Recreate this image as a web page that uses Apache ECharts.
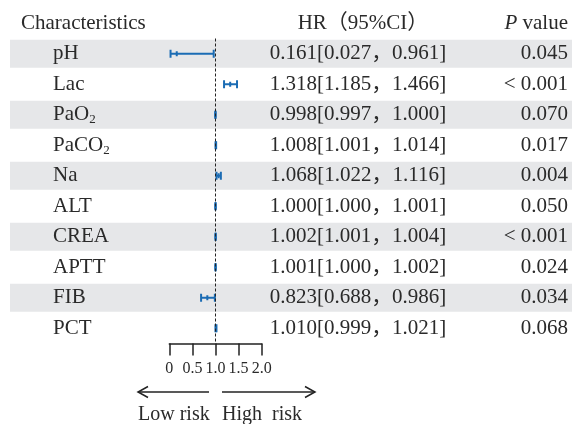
<!DOCTYPE html>
<html>
<head>
<meta charset="utf-8">
<script src="https://cdn.jsdelivr.net/npm/echarts@6/dist/echarts.min.js"></script>
<style>
html, body { margin: 0; padding: 0; background: #fff; }
#chart { width: 572px; height: 424px; }
</style>
</head>
<body>
<div id="chart"></div>
<script>
// rows of the forest plot
var names = ['pH', 'Lac', 'PaO2', 'PaCO2', 'Na', 'ALT', 'CREA', 'APTT', 'FIB', 'PCT'];
var hr = [0.161, 1.318, 0.998, 1.008, 1.068, 1.000, 1.002, 1.001, 0.823, 1.010];
var lower = [0.027, 1.185, 0.997, 1.001, 1.022, 1.000, 1.001, 1.000, 0.688, 0.999];
var upper = [0.961, 1.466, 1.000, 1.014, 1.116, 1.001, 1.004, 1.002, 0.986, 1.021];
var pValues = ['0.045', '< 0.001', '0.070', '0.017', '0.004', '0.050', '< 0.001', '0.024', '0.034', '0.068'];
var xTicks = [0, 0.5, 1.0, 1.5, 2.0];
var xTickLabels = ['0', '0.5', '1.0', '1.5', '2.0'];

var FONT = '"Liberation Serif", "Noto Sans CJK SC", serif';
var TXT = '#2a2a2a';
var BLUE = '#1b6cb4';
var FS = 21;

var chart = echarts.init(document.getElementById('chart'));

var bandData = names.map(function (n, i) { return i % 2 === 0 ? 1 : '-'; });
var textData = names.map(function (n, i) { return [0, i]; });
var ciData = names.map(function (n, i) { return [i, lower[i], hr[i], upper[i]]; });

function subName(n) {
  return n.replace(/2$/, '{sub|2}');
}

var option = {
  animation: false,
  grid: [
    { left: 10, right: 0, top: 38.5, height: 305 },
    { left: 169.3, width: 92.4, top: 38.5, height: 305 }
  ],
  xAxis: [
    { gridIndex: 0, type: 'value', min: 0, max: 1, show: false },
    {
      gridIndex: 1, type: 'value', min: 0, max: 2, interval: 0.5,
      axisLine: { show: true, lineStyle: { color: '#222', width: 1.5 } },
      axisTick: { show: true, length: 12, lineStyle: { color: '#222', width: 1.5 } },
      splitLine: { show: false },
      axisLabel: {
        margin: 17, fontSize: 16, color: TXT, fontFamily: FONT,
        formatter: function (v) { return xTickLabels[xTicks.indexOf(v)]; }
      }
    }
  ],
  yAxis: [
    { gridIndex: 0, type: 'category', data: names, inverse: true, show: false },
    { gridIndex: 1, type: 'category', data: names, inverse: true, show: false }
  ],
  graphic: [
    { type: 'text', style: { x: 21, y: 23, text: 'Characteristics', fontSize: FS, fontFamily: FONT, fill: TXT, align: 'left', verticalAlign: 'middle' } },
    { type: 'text', style: { x: 363, y: 23, text: 'HR（95%CI）', fontSize: FS, fontFamily: FONT, fill: TXT, align: 'center', verticalAlign: 'middle' } },
    { type: 'text', style: { x: 568, y: 23, text: '{i|P} value', fontSize: FS, fontFamily: FONT, fill: TXT, align: 'right', verticalAlign: 'middle',
      rich: { i: { fontStyle: 'italic', fontSize: FS, fontFamily: FONT, fill: TXT } } } },
    { type: 'line', shape: { x1: 138, y1: 392, x2: 209, y2: 392 }, style: { stroke: '#222', lineWidth: 1.5 } },
    { type: 'polyline', shape: { points: [[148, 386.5], [138, 392], [148, 397.5]] }, style: { stroke: '#222', lineWidth: 1.5, fill: null } },
    { type: 'line', shape: { x1: 222, y1: 392, x2: 315, y2: 392 }, style: { stroke: '#222', lineWidth: 1.5 } },
    { type: 'polyline', shape: { points: [[305, 386.5], [315, 392], [305, 397.5]] }, style: { stroke: '#222', lineWidth: 1.5, fill: null } },
    { type: 'text', style: { x: 138, y: 415, text: 'Low risk', fontSize: 20, fontFamily: FONT, fill: TXT, align: 'left', verticalAlign: 'middle' } },
    { type: 'text', style: { x: 222, y: 415, text: 'High  risk', fontSize: 20, fontFamily: FONT, fill: TXT, align: 'left', verticalAlign: 'middle' } }
  ],
  series: [
    {
      type: 'bar', xAxisIndex: 0, yAxisIndex: 0, data: bandData,
      barWidth: 28, silent: true, z: 0,
      itemStyle: { color: '#e6e7e9' }
    },
    {
      type: 'custom', xAxisIndex: 0, yAxisIndex: 0, data: textData, silent: true, z: 3,
      encode: { x: 0, y: 1 },
      renderItem: function (params, api) {
        var i = api.value(1);
        var y = api.coord([0, i])[1];
        var hrText = hr[i].toFixed(3) + '[' + lower[i].toFixed(3) + '，' + upper[i].toFixed(3) + ']';
        return {
          type: 'group',
          children: [
            { type: 'text', style: { x: 53, y: y, text: subName(names[i]), fontSize: FS, fontFamily: FONT, fill: TXT, align: 'left', verticalAlign: 'middle',
              rich: { sub: { fontSize: 13, fontFamily: FONT, fill: TXT, padding: [10, 0, 0, 0] } } } },
            { type: 'text', style: { x: 358, y: y, text: hrText, fontSize: FS, fontFamily: FONT, fill: TXT, align: 'center', verticalAlign: 'middle' } },
            { type: 'text', style: { x: 568, y: y, text: pValues[i], fontSize: FS, fontFamily: FONT, fill: TXT, align: 'right', verticalAlign: 'middle' } }
          ]
        };
      }
    },
    {
      type: 'custom', xAxisIndex: 1, yAxisIndex: 1, data: ciData, silent: true, z: 4,
      encode: { x: [1, 2, 3], y: 0 },
      renderItem: function (params, api) {
        var row = api.value(0);
        var lo = api.coord([api.value(1), row]);
        var mid = api.coord([api.value(2), row]);
        var hi = api.coord([api.value(3), row]);
        var y = lo[1];
        var st = { stroke: BLUE, lineWidth: 2 };
        return {
          type: 'group',
          children: [
            { type: 'line', shape: { x1: lo[0], y1: y, x2: hi[0], y2: y }, style: st },
            { type: 'line', shape: { x1: lo[0], y1: y - 4, x2: lo[0], y2: y + 4 }, style: st },
            { type: 'line', shape: { x1: hi[0], y1: y - 4, x2: hi[0], y2: y + 4 }, style: st },
            { type: 'line', shape: { x1: mid[0], y1: y - 2.5, x2: mid[0], y2: y + 2.5 }, style: st }
          ]
        };
      }
    },
    {
      type: 'line', xAxisIndex: 1, yAxisIndex: 1, data: [], z: 2,
      markLine: {
        silent: true, symbol: 'none', label: { show: false },
        lineStyle: { type: [3, 2], color: '#222', width: 1 },
        data: [{ xAxis: 1 }]
      }
    }
  ]
};
chart.setOption(option);
</script>
</body>
</html>
